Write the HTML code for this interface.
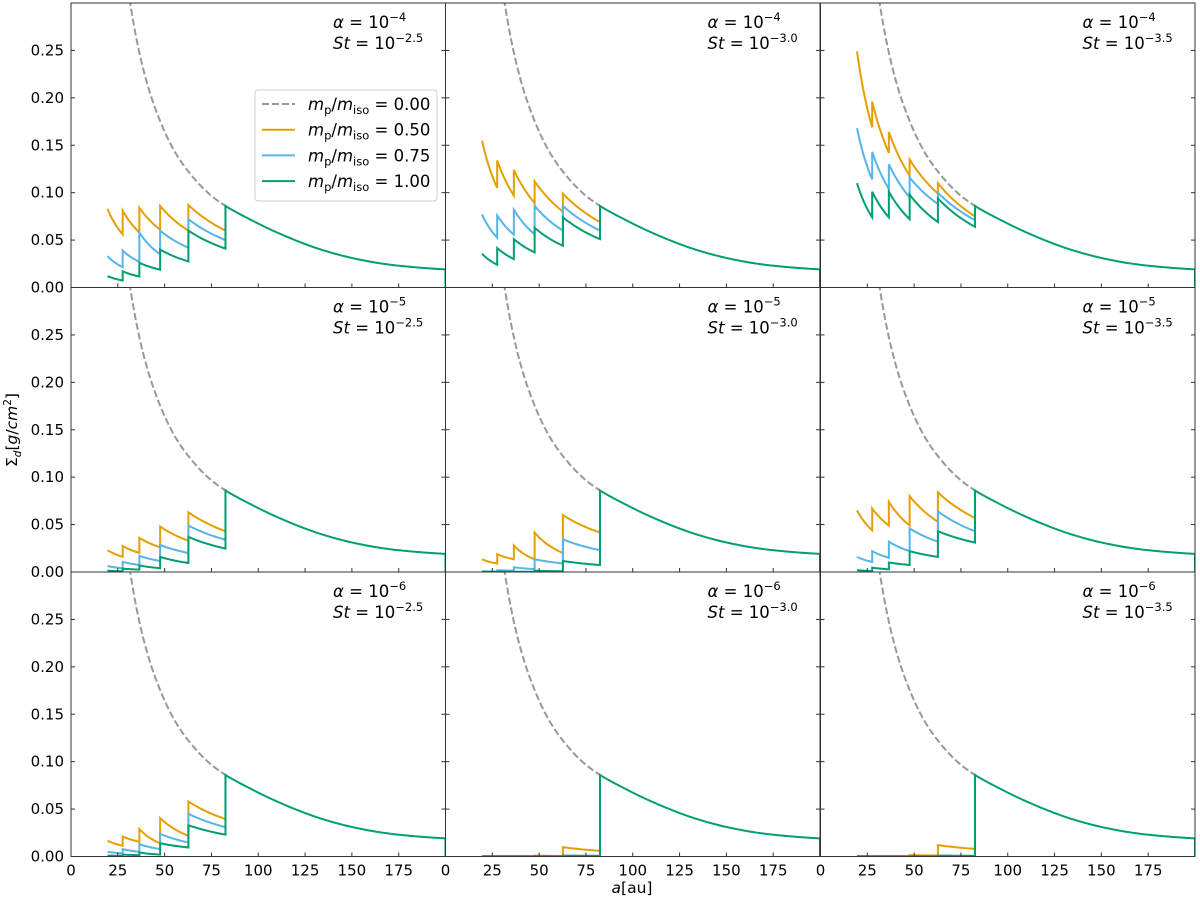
<!DOCTYPE html>
<html><head><meta charset="utf-8">
<style>
html,body{margin:0;padding:0;background:#fff;}
svg{display:block;font-family:"DejaVu Sans","Liberation Sans",sans-serif;}
</style></head>
<body>
<svg id="fig" width="1200" height="901" viewBox="0 0 1200 901" xmlns="http://www.w3.org/2000/svg"></svg>
<script>
// ---- data ----
const xTicks = [0,25,50,75,100,125,150,175];
const yTicks = [0,0.05,0.10,0.15,0.20,0.25];
const yTickLabels = ["0.00","0.05","0.10","0.15","0.20","0.25"];
const alphaExp = ["−4","−5","−6"];
const stExp = ["−2.5","−3.0","−3.5"];
const segA = [19.5,27.6,36.5,47.6,62.7,82.5];
const dashA = [27,31.5,36.8,42.2,47.5,56.4,65.3,74.2,82.5];
const dashS = [0.367,0.301,0.245,0.205,0.176,0.140,0.116,0.098,0.086];
const tailA = [82.5,97.4,115.2,133,150.8,168.6,186.4,200];
const tailS = [0.086,0.0700,0.0536,0.0403,0.0308,0.0245,0.0209,0.0191];
const orangeStart = [
 [0.083,0.081,0.084,0.086,0.087],[0.155,0.134,0.124,0.112,0.099],[0.249,0.196,0.164,0.135,0.110],
 [0.023,0.0275,0.036,0.048,0.063],[0.0134,0.0187,0.028,0.0416,0.060],[0.065,0.067,0.074,0.080,0.084],
 [0.0166,0.021,0.029,0.0405,0.058],[0.0003,0.0003,0.0003,0.001,0.0099],[0.0003,0.0003,0.0003,0.0015,0.012]];
const orangeEnd = [
 [0.056,0.058,0.061,0.060,0.060],[0.105,0.097,0.089,0.080,0.069],[0.169,0.142,0.118,0.099,0.075],
 [0.016,0.020,0.026,0.033,0.043],[0.0088,0.0134,0.0134,0.020,0.0416],[0.044,0.049,0.049,0.053,0.057],
 [0.0113,0.0155,0.014,0.0218,0.0395],[0.0003,0.0003,0.0003,0.0005,0.006],[0.0003,0.0003,0.0003,0.001,0.008]];
const blueStart = [
 [0.033,0.039,0.058,0.060,0.072],[0.077,0.076,0.082,0.086,0.086],[0.168,0.143,0.130,0.116,0.100],
 [0.0063,0.0106,0.017,0.0285,0.049],[0.0007,0.0018,0.005,0.0134,0.0345],[0.0159,0.022,0.032,0.046,0.064],
 [0.0049,0.0078,0.013,0.024,0.045],[0.0003,0.0003,0.0003,0.0003,0.0005],[0.0003,0.0003,0.0003,0.0003,0.0005]];
const blueEnd = [
 [0.0215,0.027,0.035,0.042,0.050],[0.0525,0.0557,0.056,0.060,0.060],[0.114,0.104,0.095,0.088,0.071],
 [0.004,0.0074,0.0116,0.020,0.034],[0.0004,0.0014,0.003,0.009,0.023],[0.0106,0.015,0.022,0.032,0.043],
 [0.0032,0.0049,0.0078,0.0148,0.031],[0.0003,0.0003,0.0003,0.0003,0.0004],[0.0003,0.0003,0.0003,0.0003,0.0004]];
const greenStart = [
 [0.012,0.017,0.026,0.040,0.060],[0.0356,0.0416,0.051,0.063,0.074],[0.110,0.101,0.101,0.098,0.094],
 [0.0014,0.0035,0.007,0.016,0.037],[0.0003,0.0003,0.0003,0.0014,0.0116],[0.002,0.0046,0.010,0.022,0.043],
 [0.001,0.002,0.0042,0.014,0.033],[0.0003,0.0003,0.0003,0.0003,0.001],[0.0003,0.0003,0.0003,0.0003,0.001]];
const greenEnd = [
 [0.0074,0.0116,0.0187,0.0275,0.041],[0.024,0.030,0.037,0.044,0.051],[0.074,0.074,0.072,0.069,0.064],
 [0.0007,0.0025,0.004,0.0095,0.0247],[0.0003,0.0003,0.0003,0.0007,0.0074],[0.001,0.0028,0.0074,0.0159,0.031],
 [0.0007,0.0014,0.002,0.0095,0.023],[0.0003,0.0003,0.0003,0.0003,0.0007],[0.0003,0.0003,0.0003,0.0003,0.0007]];

// ---- layout ----
const NS = "http://www.w3.org/2000/svg";
const svg = document.getElementById('fig');
const colL = [71,445.5,820.5], rowT = [3,287.5,572];
const PW = 374.5, PH = 284.5, XMAX = 200, YMAX = 0.3;
const C = {orange:"#E69F00", blue:"#56B4E9", green:"#009E73", gray:"#999999", axis:"#333333"};
function mk(tag, attrs, parent){ const e=document.createElementNS(NS,tag); for(const k in attrs) e.setAttribute(k,attrs[k]); (parent||svg).appendChild(e); return e; }

function sampleSeg(a0,a1,v0,v1){
  const k=Math.log(v1/v0)/Math.log(a1/a0); const pts=[];
  for(let i=0;i<=12;i++){ const a=a0+(a1-a0)*i/12; pts.push([a, v0*Math.pow(a/a0,k)]); }
  return pts;
}
// smooth Catmull-Rom in log-log space through data points
function smoothCurve(A,S){
  const P=A.map((a,i)=>[Math.log(a),Math.log(S[i])]); const out=[[A[0],S[0]]];
  for(let i=0;i<P.length-1;i++){
    const p0=P[Math.max(0,i-1)], p1=P[i], p2=P[i+1], p3=P[Math.min(P.length-1,i+2)];
    for(let t=1;t<=16;t++){ const u=t/16, u2=u*u, u3=u2*u;
      const f=(a,b,c,d)=>0.5*((2*b)+(-a+c)*u+(2*a-5*b+4*c-d)*u2+(-a+3*b-3*c+d)*u3);
      out.push([Math.exp(f(p0[0],p1[0],p2[0],p3[0])), Math.exp(f(p0[1],p1[1],p2[1],p3[1]))]); }
  }
  return out;
}

for(let r=0;r<3;r++){
  for(let c=0;c<3;c++){
    const p=r*3+c, L=colL[c], T=rowT[r];
    const xs=a=>L+a/XMAX*PW, ys=v=>T+PH-v/YMAX*PH;
    const g=mk('g',{});
    
    
    const cid='clip'+p;
    const cp=mk('clipPath',{id:cid},g); mk('rect',{x:L,y:T,width:PW,height:PH},cp);
    const pl=mk('g',{'clip-path':'url(#'+cid+')'},g);
    const toPath=pts=>pts.map((q,i)=>(i?'L':'M')+xs(q[0]).toFixed(2)+','+ys(q[1]).toFixed(2)).join('');
    const dp=mk('path',{d:toPath(smoothCurve(dashA,dashS)),fill:'none',stroke:C.gray,'stroke-width':2,'stroke-dasharray':'7,3'},pl);
    
    
    const series=[['orange',orangeStart,orangeEnd,'series-mp-0.50'],['blue',blueStart,blueEnd,'series-mp-0.75'],['green',greenStart,greenEnd,'series-mp-1.00']];
    series.forEach(([col,S0,S1,nm])=>{
      let pts=[];
      for(let s=0;s<5;s++) pts.push(...sampleSeg(segA[s],segA[s+1],S0[p][s],S1[p][s]));
      pts.push([segA[5],tailS[0]]);
      if(col==='green'){ pts.push(...smoothCurve(tailA,tailS)); pts.push([XMAX,0]); }
      const e=mk('path',{d:toPath(pts),fill:'none',stroke:C[col],'stroke-width':2,'stroke-linejoin':'miter'},pl);
      
      
    });
    const fr=mk('rect',{x:L,y:T,width:PW,height:PH,fill:'none',stroke:C.axis,'stroke-width':1},g);
    
    
    xTicks.forEach(t=>{ if(t===0) return; const x=xs(t);
      mk('line',{x1:x,y1:T+PH,x2:x,y2:T+PH-4,stroke:C.axis,'stroke-width':1},g); });
    yTicks.forEach(t=>{ if(t===0) return; const y=ys(t);
      mk('line',{x1:L,y1:y,x2:L+4,y2:y,stroke:C.axis,'stroke-width':1},g);
      mk('line',{x1:L+PW,y1:y,x2:L+PW-4,y2:y,stroke:C.axis,'stroke-width':1},g); });
    if(c===0){ yTicks.forEach((t,i)=>{ const tx=mk('text',{x:L-7,y:ys(t)+5,'font-size':15,'text-anchor':'end',fill:'#000'},g); tx.textContent=yTickLabels[i];
      
       }); }
    if(r===2){ xTicks.forEach(t=>{ const tx=mk('text',{x:xs(t),y:T+PH+19,'font-size':15,'text-anchor':'middle',fill:'#000'},g); tx.textContent=String(t);
      
       }); }
    const an=mk('text',{x:L+262,y:T+25,'font-size':16.5,fill:'#000'},g);
    
    
    an.innerHTML='<tspan font-style="italic">α</tspan> = 10<tspan font-size="11.5" dy="-7">'+alphaExp[r]+'</tspan>';
    const st=mk('text',{x:L+262,y:T+46,'font-size':16.5,fill:'#000'},g);
    
    
    st.innerHTML='<tspan font-style="italic">St</tspan> = 10<tspan font-size="11.5" dy="-7">'+stExp[c]+'</tspan>';
  }
}
const lg=mk('g',{});


mk('rect',{x:255,y:90,width:182,height:111,rx:3,fill:'#fff',stroke:'#ccc','stroke-width':1},lg);
const legVals=['0.00','0.50','0.75','1.00'], legCols=[C.gray,C.orange,C.blue,C.green];
legVals.forEach((v,i)=>{
  const y=104+i*25.7;
  const ln=mk('line',{x1:262,y1:y,x2:295,y2:y,stroke:legCols[i],'stroke-width':2},lg);
  if(i===0) ln.setAttribute('stroke-dasharray','7,3');
  const t=mk('text',{x:308,y:y+6,'font-size':16.5,fill:'#000'},lg);
  
  
  t.innerHTML='<tspan font-style="italic">m</tspan><tspan font-size="11.5" dy="4">p</tspan><tspan dy="-4">/</tspan><tspan font-style="italic">m</tspan><tspan font-size="11.5" dy="4">iso</tspan><tspan dy="-4"> = '+v+'</tspan>';
});
const xt=mk('text',{x:632,y:893,'font-size':15.5,'text-anchor':'middle',fill:'#000'});


xt.innerHTML='<tspan font-style="italic">a</tspan>[au]';
const yt=mk('text',{x:0,y:0,'font-size':15.5,'text-anchor':'middle',fill:'#000',transform:'translate(17,430) rotate(-90)'});


yt.innerHTML='Σ<tspan font-size="10.5" dy="4" font-style="italic">d</tspan><tspan dy="-4">[</tspan><tspan font-style="italic">g</tspan>/<tspan font-style="italic">cm</tspan><tspan font-size="10.5" dy="-6">2</tspan><tspan dy="6">]</tspan>';
</script>
</body></html>
